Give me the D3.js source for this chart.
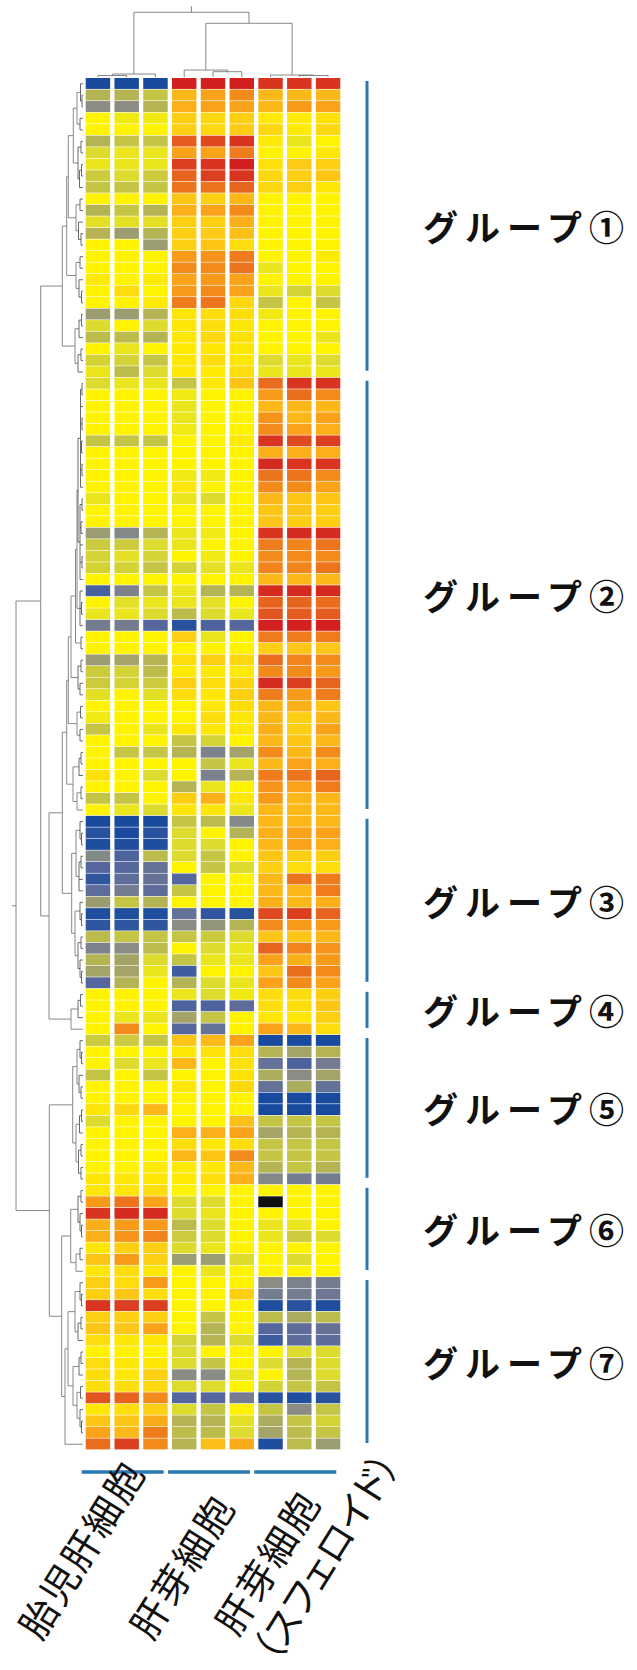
<!DOCTYPE html>
<html><head><meta charset="utf-8">
<script src="https://cdn.jsdelivr.net/npm/d3@7"></script>
<style>
html,body{margin:0;padding:0;background:#fff;}
svg{display:block;font-family:"Noto Sans CJK JP","Noto Sans",sans-serif;}
</style></head><body>
<svg id="chart" width="637" height="1670"></svg>
<script>
// Sample groups, three replicates each
const sampleGroups = [["胎児肝細胞"], ["肝芽細胞"], ["肝芽細胞", "（スフェロイド）"]];
const samples = ["FL1", "FL2", "FL3", "LB1", "LB2", "LB3", "SP1", "SP2", "SP3"];

// Gene clusters (rows, top to bottom)
const geneGroups = ["グループ①", "グループ②", "グループ③", "グループ④", "グループ⑤", "グループ⑥", "グループ⑦"];

// Relative expression (row-scaled), one array of 9 samples per gene; null = missing
const group1 = [
  [-3,-3,-3, 3,3,3, 2.8,2.8,2.8],
  [-1,-1,-0.8, 1.2,1.5,1.8, 1.2,1.2,1.2],
  [-1.5,-1.5,-1, 1.3,1.5,1.5, 1.2,1.6,1.5],
  [0,-0.2,-0.2, 0.8,0.6,0.8, 0.2,0.2,0.4],
  [0,0,0, 0.8,0.6,0.9, 0.6,0.2,0.6],
  [-1,-0.8,-0.8, 2.4,2.6,2.8, 0.2,-0.3,0],
  [-0.5,-0.3,-0.3, 1.5,1.5,2, 0,0,0.3],
  [-0.3,-0.3,-0.3, 2.7,2.8,3, 0.4,0.9,0.8],
  [-0.7,-0.5,-0.7, 2.3,2.7,2.8, 0.6,0.8,1],
  [-0.8,-0.8,-0.8, 2.1,2.1,2.3, 0.6,0.8,0.3],
  [0,0,0, 1,0.8,1.2, 0,0,0],
  [-1,-0.8,-1, 1.3,1.5,1.8, 0,0,0],
  [-0.4,-0.4,-0.4, 0.8,0.8,1.3, 0,0,0],
  [-1,-1.3,-1, 0.8,0.9,1.1, 0,0,0],
  [0,0,-1.3, 0.8,1,0.5, 0,0,0],
  [0,0,0, 1.6,1.7,2, 0,0,0.2],
  [0,0,0, 1.8,1.8,2.1, -0.3,0,0],
  [0.2,0,0.2, 1.5,1.6,1.5, 0,0,0],
  [0,0.5,0, 1.6,1.8,1.5, -0.3,-0.6,-0.5],
  [0,0,0.2, 2,2.1,0.6, -0.8,0,-0.8],
  [-1.3,-1.3,-1, 0.3,0.5,0.5, -0.2,0,0],
  [-0.5,0,-0.5, 0.3,0.5,0.3, 0,0,0],
  [-0.9,-0.9,-1, 0.3,0.6,0.4, 0,0,-0.3],
  [0,-0.3,0, 0.2,0.3,0.3, 0,0,0],
  [-0.6,-0.6,-0.8, 0.3,0.5,0.3, -0.5,-0.3,-0.5],
  [-0.3,-0.9,-0.5, 0.3,0.2,0.5, -0.3,-0.3,-0.3]
];
const group2 = [
  [-0.5,-0.3,-0.3, -0.8,0.3,1, 2.2,2.8,2.8],
  [0,0,0, -0.2,0,0, 1.6,2.2,1.8],
  [0,0,0, -0.3,0,0, 1.2,1.2,1.2],
  [0,0,0, -0.3,0,0, 1.7,1.2,1.5],
  [0,0,0, -0.2,0,0, 1.8,1.5,1.3],
  [-0.8,-0.8,-0.8, 0,0,0.2, 2.8,2.6,2.7],
  [0,0,0, 0,0,0, 1.3,1.3,1.3],
  [0,0,0, 0,0,0, 2.9,2.8,2.8],
  [0,0,0, -0.2,-0.2,0, 2.1,2.1,1.8],
  [0,0,0, 0.3,0,0, 1.8,1.8,1.5],
  [-0.3,0,0, -0.3,-0.5,0, 1.2,1,1],
  [0,0,0, 0,0,0, 1,1,0.8],
  [0,0,0, 0,0,0, 1,0.8,0.8],
  [-1.3,-1.6,-1, -0.3,-0.2,0, 2.8,2.9,2.9],
  [-0.7,-0.7,-0.5, -0.3,0,0, 2,1.9,2.1],
  [-0.6,-0.4,-0.6, 0,-0.2,0, 1.8,1.8,1.8],
  [-0.6,-0.6,-0.8, -0.6,-0.4,-0.3, 1.9,1.9,2.1],
  [0,0,0, 0,0,0, 1.2,1.2,1.2],
  [-2.4,-1.7,-0.8, -0.3,-1,-1, 2.9,2.9,2.9],
  [0,-0.4,-0.3, -0.3,-0.4,0, 2.3,2.3,2.2],
  [-0.3,-0.3,-0.5, -0.9,-0.5,-0.3, 2.5,2.4,2.4],
  [-1.8,-1.8,-2.2, -2.8,-2.3,-2.2, 3,3,3],
  [0,0,0, 0.8,-0.3,0, 2,2,2],
  [0,0,0, 0,0,0, 0.8,1,1],
  [-1.3,-1.2,-1, 0.5,0.8,0.6, 2.2,1.9,1.8],
  [-0.7,-0.6,-0.9, 0.2,0.2,0.2, 1.8,1.8,1.6],
  [-0.7,-0.6,-0.7, 0.8,0.5,0.7, 2.9,2.7,2.3],
  [-0.4,0,-0.4, 0.5,0.3,0.8, 2,1.6,2],
  [0,0,0, 0,0.3,0.5, 1.2,1.3,1],
  [-0.2,0,0, 0,0.5,0.3, 1.2,0.8,1.2],
  [-0.8,0,-0.3, 0.3,0.3,0.3, 1.3,0.8,1.5],
  [0,0,0, -0.8,-0.6,0, 1.2,1,1.2],
  [0,-0.8,-0.8, -1,-1.7,-1.2, 1.8,1.2,1.8],
  [0,0,0, 0,-0.8,-0.3, 1.2,1.5,1.3],
  [0.4,0,-0.5, 0,-1.7,-1, 2,2.1,2.3],
  [0,0,0, -1,-0.3,0, 1.7,1.5,2],
  [-0.8,-0.8,0, 0.8,1.3,0.3, 1.6,1.2,1.2],
  [0,-0.3,-0.5, 0.3,0.3,-0.3, 1.2,1.2,1.2]
];
const group3 = [
  [-3,-3,-3, -0.8,-0.9,-1.6, 1.2,1.2,1.2],
  [-2.8,-3,-2.8, -0.5,0,-1, 1.3,1.5,1.5],
  [-2.9,-2.9,-2.9, -0.5,-0.5,0, 1.2,1.5,1.3],
  [-1.6,-2.3,-0.9, -0.5,-0.8,0, 1,0.8,0.8],
  [-2.2,-2.2,-2, 0,-0.8,-0.5, 0.8,0.5,0.5],
  [-2.7,-2.1,-2, -2.2,0,0, 1.2,2.1,2],
  [-2.1,-1.8,-2.1, -0.8,0,0, 1.2,1.2,2],
  [-1.3,-0.8,-1, 0,0,0, 1.3,1.2,1.3],
  [-2.9,-2.9,-2.9, -2,-2.7,-2.8, 2.6,2.7,2.3],
  [-2.7,-2.7,-2.7, -1.5,-1.4,-1, 1.8,1.6,1.6],
  [-0.9,-0.8,-0.8, -0.8,-0.7,-0.5, 1,1,1.2],
  [-1.7,-1.5,-0.9, 0,-0.5,-0.3, 2.3,1.9,1.7],
  [-1,-1.2,-0.5, -0.8,-0.3,-0.3, 1.5,1.3,1.6],
  [-1.2,-1.2,-0.3, -2.5,0,0, 1,2.2,1.8],
  [-2.2,-1,0, -1,-0.5,-0.3, 1.5,1.8,1.5]
];
const group4 = [
  [0,0,0, -0.3,-0.5,-0.2, 0.5,0.5,0.8],
  [0,0,0, -2.3,-2.3,-2.1, 0.5,0.5,1],
  [0,-0.3,-0.3, -1.2,-0.8,0, 0.3,0.3,0.8],
  [0,1.8,0, -2.2,-2,0, 1.5,1.2,0.5]
];
const group5 = [
  [-0.7,-0.7,-0.8, 1,1.2,1.5, -3,-3,-3],
  [0,0,0, 0.3,0.4,0.5, -1,-1.2,-1],
  [0,-0.5,-0.3, 1.2,0,0.4, -2,-2.3,-1.8],
  [-0.8,0,-0.8, 0,0,0.4, -1.1,-1.5,-1.2],
  [0,0,0, 0.3,0,0.6, -2,-1.1,-2],
  [0,0,0, 0,0,0, -3,-3,-3],
  [0.3,0.6,1.2, 0,0,0, -3,-3,-3],
  [-0.5,0,0, 0,0,1.1, -0.8,-0.8,-0.8],
  [0,0,0, 1.3,1.3,1.5, -1.2,-1,-1],
  [0,0,0, 0.5,0.3,0.5, -0.8,-0.8,-0.8],
  [0,0,0, 1.2,1,1.8, -0.8,-0.8,-0.8],
  [0,0,0.2, 0.2,0.3,1.2, -1,-0.8,-1],
  [0.3,0.3,0.3, 0.2,0.5,1.3, -1.6,-1.8,-1.8]
];
const group6 = [
  [0.3,0.3,0.5, 0,0,0, 0,0,0],
  [1.6,2.1,1.5, -0.5,-0.5,0, null,0,0],
  [2.8,2.9,2.9, -0.5,-0.3,0, 0,0,0],
  [1.3,1.6,1.6, -0.9,-0.5,0, -0.3,-0.3,0],
  [1.3,1.7,1.9, -0.7,-0.5,0, -0.3,-0.7,-0.5],
  [0.3,0.8,0.8, -0.5,-0.3,0, 0,0,0],
  [1,1.6,0.8, -1.3,-1.3,-0.5, 0,-0.5,0],
  [0.3,0.5,0.3, 0,-0.3,0, 0,0,0]
];
const group7 = [
  [0.8,0.5,1.6, 0,0,0, -1.5,-1.7,-1.8],
  [0.8,1,0.5, 0,0,0.8, -1.8,-1.8,-1.9],
  [2.8,2.7,2.7, 0,0,0, -2.9,-2.8,-2.9],
  [0.8,0.8,0.8, 0,-0.8,0, -0.9,-1.1,-0.9],
  [1,1,1.5, 0,-1,0, -2.2,-2.1,-2],
  [0.5,0.3,0.3, -0.6,-1,-0.5, -2.5,-2.1,-2.1],
  [0,0,0, -0.5,0,0, 0,-0.5,-0.5],
  [0.5,0.3,0.3, -0.5,-0.8,0, -0.5,-1,-0.5],
  [0.5,0.3,0.8, -1.5,-1.5,-0.3, 0,-1,-0.5],
  [0.5,0.5,0.6, -0.5,-0.5,0, -0.6,-0.8,-0.8],
  [2.5,2.3,1.8, -2.2,-2.2,-1.8, -2.8,-2.9,-2.8],
  [0.3,0.5,0.8, -0.5,-0.8,0, -0.8,-1.5,-0.8],
  [1,1,1.4, -1,-1,-0.4, -1.1,-0.8,-0.6],
  [1.5,1.2,2, -0.9,-0.9,-0.5, -1.2,-0.9,-0.8],
  [2.2,2.7,1.8, -1,1.1,1.4, -2.9,-0.9,-1.3]
];
const geneGroupValues = [group1, group2, group3, group4, group5, group6, group7];

// Gene dendrogram: [mergeHeight, ...children]; leaves are row indices
const treeG1 = [20.7,
  [16.3,
    [14.7,
      [9.7,
        [6, [2.5, 0, [1, 1, 2]], [3, 3, 4]],
        [5, [2, 5, 6], [3.5, [1.5, 7, 8], 9]]],
      [7, [3, 10, 11], [4.5, 12, [2, 13, 14]]]],
    [7, [3, 15, 16], [4, 17, [1.5, 18, 19]]]],
  [8, [4, [1.5, 20, 21], 22], [5, [2, 23, 24], 25]]];
const treeG2 = [16.3,
  [14.7,
    [12,
      [7.5,
        [6,
          [5,
            [2.5, [1, 26, 27], 28, [1, 29, 30], [1.5, 31, 32], [1, 33, 34], 35],
            [3, [1, 36, 37], [2, 38, 39], 40, [1, 41, 42], 43]],
          [3, 44, [1.5, 45, 46], 47]],
        [2, 48, 49]],
      [5, [2, 50, 51], [3, 52, 53]]],
    [6, [2.5, 54, 55], [3, 56, 57]]],
  [10, [4, [2, 58, 59], 60], [6, [2, 61, 62], 63]]];
const treeG3 = [11.3,
  [7, [3, 64, [1.5, 65, 66]], [4, [2, 67, 68], 69, 70]],
  [8, [3, 71, [1.5, 72, 73]], [5, [2, 74, 75], [3, 76, [1.5, 77, 78]]]]];
const treeG4 = [12, [5, [2.5, 79, 80], 81], 82];
const treeG5 = [10.3,
  [6, [3, 83, [1.5, 84, 85]], [4, 86, [2, 87, 88]]],
  [7, [3.5, [1.5, 89, 90], 91], [4.5, [2, 92, 93], [2, 94, 95]]]];
const treeG6 = [12.3, [5, [2, 96, 97], [3, 98, [1.5, 99, 100]]], [7, [3, 101, 102], 103]];
const treeG7 = [18,
  [15,
    [8, [3, 104, [1.5, 105, 106]], [5, [2, 107, 108], 109]],
    [10, [4, [2, 110, 111], 112], [6, [2.5, 113, 114], [3, 115, [1.5, 116, 117]]]]],
  118];
const geneTree = [67,
  [42.3, treeG1, [34, [20.7, treeG2, treeG3], treeG4]],
  [33.7, treeG5, [21.3, treeG6, treeG7]]];

// Sample dendrogram
const sampleTree = [64.7, [3, [1.5, 0, 1], 2], [53.7, [7, 3, [5.3, 4, 5]], [2, 6, [1.5, 7, 8]]]];

// ---------------------------------------------------------------
const rows = geneGroupValues.flat();
const rowIdx = d3.range(rows.length);
const groupBounds = [];
{
  let s = 0;
  geneGroupValues.forEach((g, i) => { groupBounds.push({ name: geneGroups[i], start: s, end: s + g.length - 1 }); s += g.length; });
}

const svg = d3.select("#chart");

const x = d3.scaleBand().domain(d3.range(samples.length)).range([85.7, 340.3]).paddingInner(0.15).paddingOuter(0);
const y = d3.scaleBand().domain(rowIdx).range([78, 1450]).padding(0);

const color = d3.scaleLinear()
  .domain([-3, -2.2, -1.5, -1, -0.5, 0, 1, 1.5, 2, 2.5, 3])
  .range(["#184a9e", "#56679e", "#8b8d84", "#b4b455", "#dcdb2e", "#fff300", "#fdc617", "#f9a21a", "#ef7c1c", "#e2541f", "#d21f1f"])
  .clamp(true);

// Heatmap cells
const cells = [];
rows.forEach((r, i) => r.forEach((v, j) => cells.push({ i, j, v })));
svg.append("g").selectAll("rect").data(cells).join("rect")
  .attr("x", d => x(d.j))
  .attr("y", d => y(d.i))
  .attr("width", x.bandwidth())
  .attr("height", y.step() - 0.6)
  .attr("fill", d => d.v === null ? "#111" : color(d.v));

// Dendrogram layout: node position is the midpoint of its outer children
function layoutTree(tree, leafPos) {
  const root = d3.hierarchy(tree, d => Array.isArray(d) ? d.slice(1) : null);
  root.eachAfter(n => {
    if (!n.children) { n.h = 0; n.p = leafPos(n.data); }
    else { n.h = n.data[0]; n.p = (n.children[0].p + n.children[n.children.length - 1].p) / 2; }
  });
  const segs = [];
  root.each(n => {
    if (!n.children) return;
    const a = n.children[0], b = n.children[n.children.length - 1];
    segs.push({ h1: n.h, p1: a.p, h2: n.h, p2: b.p, h: n.h });
    n.children.forEach(c => segs.push({ h1: n.h, p1: c.p, h2: c.h, p2: c.p, h: n.h }));
  });
  return { root, segs };
}

// Gene dendrogram (left)
const hx = d3.scaleLinear().domain([0, 67]).range([83, 16]);
const gTree = layoutTree(geneTree, i => y(i) + y.step() / 2);
svg.append("g").selectAll("line").data(gTree.segs).join("line")
  .attr("x1", d => hx(d.h1)).attr("y1", d => d.p1)
  .attr("x2", d => hx(d.h2)).attr("y2", d => d.p2)
  .attr("stroke", d => d.h < 6 ? "#444" : "#7a7a7a")
  .attr("stroke-width", d => d.h < 6 ? 0.8 : 0.9);
svg.append("line")
  .attr("x1", hx(67)).attr("x2", hx(67) - 4)
  .attr("y1", gTree.root.p).attr("y2", gTree.root.p)
  .attr("stroke", "#7a7a7a").attr("stroke-width", 0.9);

// Sample dendrogram (top)
const hy = d3.scaleLinear().domain([0, 64.7]).range([77, 12.3]);
const sTree = layoutTree(sampleTree, j => x(j) + x.bandwidth() / 2);
svg.append("g").selectAll("line").data(sTree.segs).join("line")
  .attr("x1", d => d.p1).attr("y1", d => hy(d.h1))
  .attr("x2", d => d.p2).attr("y2", d => hy(d.h2))
  .attr("stroke", "#7a7a7a").attr("stroke-width", 0.9);
svg.append("line")
  .attr("x1", sTree.root.p).attr("x2", sTree.root.p)
  .attr("y1", hy(64.7)).attr("y2", hy(64.7) - 6)
  .attr("stroke", "#7a7a7a").attr("stroke-width", 0.9);

// Gene cluster brackets and labels (right)
const accent = "#2a79b3";
const gl = svg.append("g");
gl.selectAll("line").data(groupBounds).join("line")
  .attr("x1", 367).attr("x2", 367)
  .attr("y1", d => y(d.start) + 3)
  .attr("y2", d => y(d.end) + y.step() - 7)
  .attr("stroke", accent).attr("stroke-width", 3);
gl.selectAll("text").data(groupBounds).join("text")
  .attr("x", 423)
  .attr("y", d => (y(d.start) + y(d.end) + y.step()) / 2 - 2)
  .attr("dominant-baseline", "central")
  .attr("font-size", 35)
  .attr("font-weight", 700)
  .attr("letter-spacing", 7)
  .attr("fill", "#111")
  .text(d => d.name);

// Sample group brackets and labels (bottom)
const sg = sampleGroups.map((lines, k) => ({
  lines,
  x0: x(3 * k),
  x1: x(3 * k + 2) + x.bandwidth(),
  cx: (x(3 * k) + x(3 * k + 2) + x.bandwidth()) / 2
}));
const labelShift = [-86, -61, -62];
const labelBase = [1642, 1642, 1638];
const bl = svg.append("g");
bl.selectAll("line").data(sg).join("line")
  .attr("x1", d => d.x0 - 4).attr("x2", d => d.x1 - 4)
  .attr("y1", 1472).attr("y2", 1472)
  .attr("stroke", accent).attr("stroke-width", 3.5);
bl.selectAll("text").data(sg).join("text")
  .attr("transform", (d, k) => `translate(${d.cx + labelShift[k]},${labelBase[k]}) rotate(-58)`)
  .attr("font-size", 38)
  .attr("fill", "#111")
  .each(function (d) {
    const t = d3.select(this);
    d.lines.forEach((s, i) => {
      t.append("tspan")
        .attr("x", i ? -2 : 0)
        .attr("dy", i ? "1.22em" : 0)
        .attr("letter-spacing", i ? 0 : 2)
        .style("font-feature-settings", i ? "'palt'" : "normal")
        .text(s);
    });
  });
</script>
</body></html>
